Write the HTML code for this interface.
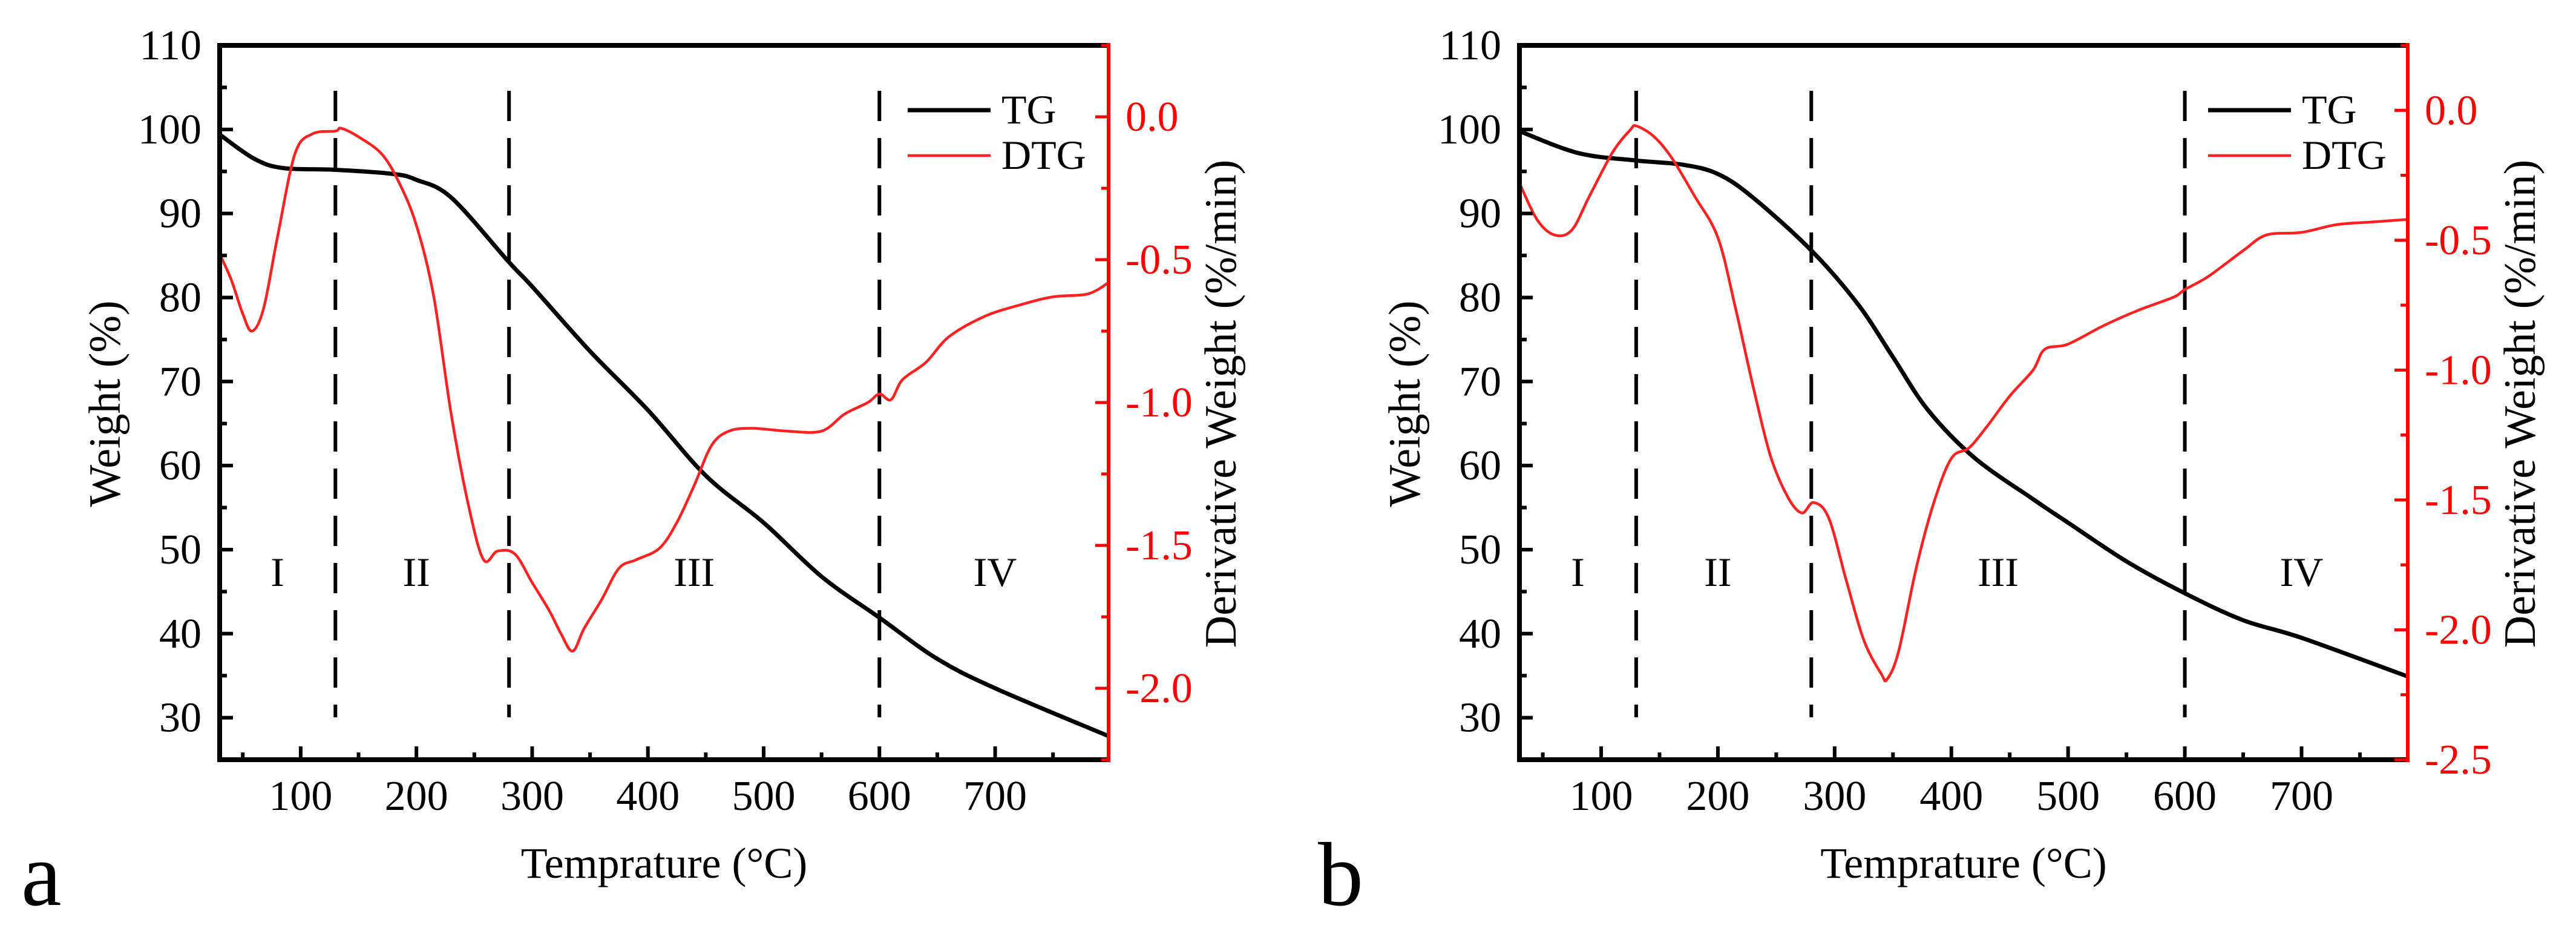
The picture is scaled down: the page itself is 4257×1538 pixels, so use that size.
<!DOCTYPE html>
<html><head><meta charset="utf-8"><style>
html,body{margin:0;padding:0;background:#fff;}
svg{display:block;}
svg text{font-family:"Liberation Serif","Times New Roman",serif;}
</style></head><body>
<svg id="chart" width="4257" height="1538" viewBox="0 0 4257 1538" xmlns="http://www.w3.org/2000/svg" font-family="Liberation Serif, serif"></svg>
<script>
// ---- Panel a data ----
const tgA_T = [30,60,85,130,180,200,230,280,300,350,400,450,500,550,600,650,700,798];
const tgA_W = [99.4,96.5,95.4,95.2,94.7,94.0,91.9,84.2,81.3,73.6,66.6,58.8,53.2,46.8,41.9,37.0,33.5,27.8];
const dtgA_T = [30,40,50,58,68,80,95,110,130,135,150,170,185,200,215,230,245,258,270,285,300,315,325,335,345,360,375,390,410,425,440,455,470,490,520,550,570,590,600,610,620,640,660,690,720,750,780,798];
const dtgA_D = [-0.48,-0.57,-0.69,-0.75,-0.67,-0.42,-0.13,-0.06,-0.05,-0.04,-0.07,-0.13,-0.23,-0.38,-0.63,-1.04,-1.36,-1.55,-1.52,-1.53,-1.63,-1.73,-1.81,-1.87,-1.79,-1.69,-1.58,-1.55,-1.51,-1.42,-1.29,-1.15,-1.10,-1.09,-1.10,-1.10,-1.04,-1.00,-0.97,-0.99,-0.92,-0.86,-0.77,-0.70,-0.66,-0.63,-0.62,-0.58];
// ---- Panel b data ----
const tgB_T = [30,80,130,170,200,230,280,320,350,380,420,470,500,550,600,650,700,791];
const tgB_W = [99.8,97.2,96.3,95.8,94.7,91.9,85.6,79.2,72.9,66.6,60.9,56.0,53.2,48.6,44.8,41.6,39.5,34.9];
const dtgB_T = [30,45,60,75,90,110,125,130,145,160,180,200,215,230,245,260,272,282,295,310,325,340,345,355,370,385,400,415,430,450,470,480,500,530,560,590,600,620,650,670,700,730,760,791];
const dtgB_D = [-0.28,-0.42,-0.48,-0.46,-0.33,-0.16,-0.075,-0.06,-0.10,-0.18,-0.33,-0.49,-0.76,-1.06,-1.33,-1.49,-1.55,-1.51,-1.57,-1.81,-2.04,-2.17,-2.19,-2.08,-1.76,-1.51,-1.34,-1.30,-1.22,-1.10,-1.00,-0.92,-0.90,-0.83,-0.77,-0.72,-0.69,-0.64,-0.54,-0.48,-0.47,-0.44,-0.43,-0.42];
// ---- Shared axis ticks ----
const xTicks = [100,200,300,400,500,600,700];
const yTicks = [30,40,50,60,70,80,90,100,110];
const rTicksA = [0.0,-0.5,-1.0,-1.5,-2.0];
const rTicksB = [0.0,-0.5,-1.0,-1.5,-2.0,-2.5];
const dividers = [130,280,600];
const regionLabels = ["I","II","III","IV"];
const regionTemps = [80,200,440,700];

const NS="http://www.w3.org/2000/svg";
const svg=document.getElementById('chart');
const FF='Liberation Serif, Times New Roman, serif';
function mk(tag,attrs,parent){const e=document.createElementNS(NS,tag);for(const k in attrs)e.setAttribute(k,attrs[k]);if(tag==='text')e.setAttribute('font-family',FF);(parent||svg).appendChild(e);return e;}
function smooth(pts){
  let d='M'+pts[0][0].toFixed(1)+','+pts[0][1].toFixed(1);
  for(let i=0;i<pts.length-1;i++){
    const p0=pts[Math.max(0,i-1)],p1=pts[i],p2=pts[i+1],p3=pts[Math.min(pts.length-1,i+2)];
    const c1=[p1[0]+(p2[0]-p0[0])/6,p1[1]+(p2[1]-p0[1])/6];
    const c2=[p2[0]-(p3[0]-p1[0])/6,p2[1]-(p3[1]-p1[1])/6];
    d+=` C${c1[0].toFixed(1)},${c1[1].toFixed(1)} ${c2[0].toFixed(1)},${c2[1].toFixed(1)} ${p2[0].toFixed(1)},${p2[1].toFixed(1)}`;
  }
  return d;
}

function panel(p){
  const g=mk('g',{});
  
  
  const L=p.left,R=p.right,T=75,B=1255;
  const xs=v=>L+(v-p.xmin)/(p.xmax-p.xmin)*(R-L);
  const ys=v=>B-(v-25)/(110-25)*(B-T);
  const rs=v=>B-(v-p.rmin)/(p.rmax-p.rmin)*(B-T);
  dividers.forEach(d=>{
    const l=mk('line',{x1:xs(d),x2:xs(d),y1:150,y2:1185,stroke:'#000','stroke-width':6,'stroke-dasharray':'50 28'},g);
    
    
  });
  regionLabels.forEach((r,i)=>{
    const t=mk('text',{x:xs(regionTemps[i]),y:968,'font-size':68,'text-anchor':'middle',fill:'#000'},g);
    t.textContent=r;
    
    
  });
  const tg=mk('path',{d:smooth(p.tgT.map((t,i)=>[xs(t),ys(p.tgW[i])])),fill:'none',stroke:'#000','stroke-width':7,'stroke-linejoin':'round'},g);
  
  
  const dtg=mk('path',{d:smooth(p.dT.map((t,i)=>[xs(t),rs(p.dD[i])])),fill:'none',stroke:'#ff2020','stroke-width':4.5,'stroke-linejoin':'round'},g);
  
  
  const fr=mk('path',{d:`M${R},${B} L${L},${B} L${L},${T} L${R},${T}`,fill:'none',stroke:'#000','stroke-width':8},g);
  
  
  const ra=mk('line',{x1:R,x2:R,y1:T-4,y2:B+4,stroke:'#ff0000','stroke-width':6},g);
  
  
  for(let v=50;v<=p.xmax;v+=50){
    const maj=v%100===0;
    mk('line',{x1:xs(v),x2:xs(v),y1:B,y2:B-(maj?22:12),stroke:'#000','stroke-width':6},g);
  }
  xTicks.forEach(v=>{
    const t=mk('text',{x:xs(v),y:1338,'font-size':70,'text-anchor':'middle',fill:'#000'},g);
    t.textContent=v;
    
    
  });
  for(let v=30;v<=110;v+=5){
    const maj=v%10===0;
    mk('line',{x1:L,x2:L+(maj?22:12),y1:ys(v),y2:ys(v),stroke:'#000','stroke-width':6},g);
  }
  yTicks.forEach(v=>{
    const t=mk('text',{x:L-30,y:ys(v)+23,'font-size':70,'text-anchor':'end',fill:'#000'},g);
    t.textContent=v;
    
    
  });
  for(let v=0.25;v>=p.rmin-0.001;v-=0.25){
    const maj=Math.abs(v*2-Math.round(v*2))<1e-6;
    mk('line',{x1:R,x2:R-(maj?22:12),y1:rs(v),y2:rs(v),stroke:'#ff0000','stroke-width':5},g);
  }
  p.rTicks.forEach(v=>{
    const t=mk('text',{x:R+28,y:rs(v)+23,'font-size':70,'text-anchor':'start',fill:'#ff0000'},g);
    t.textContent=v.toFixed(1);
    
    
  });
  const yt=mk('text',{x:0,y:0,'font-size':74,'text-anchor':'middle',fill:'#000',transform:`translate(${L-165},667) rotate(-90)`},g);
  yt.textContent='Weight (%)';
  
  
  const rt=mk('text',{x:0,y:0,'font-size':74,'text-anchor':'middle',fill:'#000',transform:`translate(${R+210},667) rotate(-90)`},g);
  rt.textContent='Derivative Weight (%/min)';
  
  
  const xt=mk('text',{x:(L+R)/2,y:1450,'font-size':72,'text-anchor':'middle',fill:'#000'},g);
  xt.textContent='Temprature (°C)';
  
  
  const pl=mk('text',{x:p.labelX,y:1495,'font-size':150,fill:'#000'},g);
  pl.textContent=p.id;
  
  
  const lg=mk('g',{},g);
  
  
  mk('line',{x1:p.legX,x2:p.legX+137,y1:182,y2:182,stroke:'#000','stroke-width':7},lg);
  const l1=mk('text',{x:p.legX+155,y:204,'font-size':68,fill:'#000'},lg);l1.textContent='TG';
  
  
  mk('line',{x1:p.legX,x2:p.legX+137,y1:257,y2:257,stroke:'#ff2020','stroke-width':4.5},lg);
  const l2=mk('text',{x:p.legX+155,y:279,'font-size':68,fill:'#000'},lg);l2.textContent='DTG';
  
  
}
panel({id:'a',left:363,right:1832,xmin:30,xmax:798,rmin:-2.25,rmax:0.25,rTicks:rTicksA,tgT:tgA_T,tgW:tgA_W,dT:dtgA_T,dD:dtgA_D,labelX:35,legX:1500});
panel({id:'b',left:2511,right:3979,xmin:30,xmax:791,rmin:-2.5,rmax:0.25,rTicks:rTicksB,tgT:tgB_T,tgW:tgB_W,dT:dtgB_T,dD:dtgB_D,labelX:2178,legX:3649});
</script>
</body></html>
